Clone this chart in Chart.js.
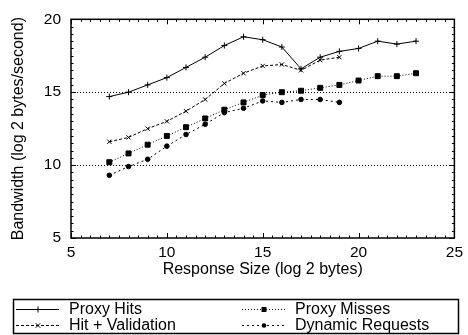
<!DOCTYPE html>
<html>
<head>
<meta charset="utf-8">
<script src="https://cdn.jsdelivr.net/npm/chart.js@4/dist/chart.umd.min.js"></script>
<style>
  html, body { margin: 0; padding: 0; background: #fff; }
  #wrap { width: 468px; height: 335px; }
</style>
</head>
<body>
<div id="wrap"><canvas id="bw" width="468" height="335"></canvas></div>
<script>
// response size (log2 bytes) and bandwidth (log2 bytes/second)
const sizes = [7, 8, 9, 10, 11, 12, 13, 14, 15, 16, 17, 18, 19, 20, 21, 22, 23];
const proxyHits = [14.7, 15.0, 15.5, 16.0, 16.7, 17.4, 18.2, 18.8, 18.6, 18.1, 16.6, 17.4, 17.8, 18.0, 18.5, 18.3, 18.5];
const hitValidation = [11.6, 11.9, 12.5, 13.0, 13.7, 14.5, 15.6, 16.3, 16.8, 16.9, 16.5, 17.2, 17.4];
const proxyMisses = [10.2, 10.8, 11.4, 12.0, 12.6, 13.2, 13.8, 14.3, 14.8, 15.0, 15.1, 15.3, 15.5, 15.8, 16.1, 16.1, 16.3];
const dynamicReq = [9.3, 9.9, 10.4, 11.3, 12.1, 12.8, 13.6, 13.9, 14.4, 14.3, 14.5, 14.5, 14.3];
const seriesNames = ['Proxy Hits', 'Hit + Validation', 'Proxy Misses', 'Dynamic Requests'];
const xTicks = [5, 10, 15, 20, 25];
const yTicks = [5, 10, 15, 20];

const FONT = 'Liberation Sans, Arial, Helvetica, sans-serif';
const toPoints = (vals) => vals.map((v, i) => ({ x: sizes[i], y: v }));

const series = [
    { label: seriesNames[0], data: toPoints(proxyHits), dash: [], pointStyle: 'cross', pointRadius: 3 },
    { label: seriesNames[1], data: toPoints(hitValidation), dash: [3, 2], pointStyle: 'crossRot', pointRadius: 3 },
    { label: seriesNames[2], data: toPoints(proxyMisses), dash: [1, 2], pointStyle: 'rect', pointRadius: 3.5 },
    { label: seriesNames[3], data: toPoints(dynamicReq), dash: [2, 3], pointStyle: 'circle', pointRadius: 2.3 }
];

function marker(ctx, style, x, y, r) {
    ctx.save();
    ctx.setLineDash([]);
    ctx.beginPath();
    if (style === 'cross') {
        ctx.moveTo(x - r, y); ctx.lineTo(x + r, y);
        ctx.moveTo(x, y - r); ctx.lineTo(x, y + r);
        ctx.stroke();
    } else if (style === 'crossRot') {
        const d = r * 0.75;
        ctx.moveTo(x - d, y - d); ctx.lineTo(x + d, y + d);
        ctx.moveTo(x + d, y - d); ctx.lineTo(x - d, y + d);
        ctx.stroke();
    } else if (style === 'rect') {
        const s = r * Math.SQRT1_2;
        ctx.fillRect(x - s, y - s, 2 * s, 2 * s);
    } else {
        ctx.arc(x, y, r, 0, Math.PI * 2);
        ctx.fill();
    }
    ctx.restore();
}

// frame, dotted grid, inward ticks on all four sides, boxed legend
const framePlugin = {
    id: 'frame',
    beforeDatasetsDraw: (chart) => {
        const { ctx, chartArea: a, scales: { y } } = chart;
        ctx.save();
        ctx.strokeStyle = '#000';
        ctx.lineWidth = 1;
        ctx.setLineDash([1, 2]);
        [10, 15].forEach(v => {
            const py = Math.round(y.getPixelForValue(v)) + 0.5;
            ctx.beginPath();
            ctx.moveTo(a.left, py);
            ctx.lineTo(a.right, py);
            ctx.stroke();
        });
        ctx.restore();
    },
    afterDraw: (chart) => {
        const { ctx, chartArea: a, scales: { x, y } } = chart;
        ctx.save();
        ctx.strokeStyle = '#000';
        ctx.lineWidth = 1;
        for (let v = 5; v <= 25.001; v += 0.5) {
            const px = Math.round(x.getPixelForValue(v)) + 0.5;
            const len = v % 5 === 0 ? 5 : 2.5;
            ctx.beginPath();
            ctx.moveTo(px, a.bottom); ctx.lineTo(px, a.bottom - len);
            ctx.moveTo(px, a.top); ctx.lineTo(px, a.top + len);
            ctx.stroke();
        }
        for (let v = 5; v <= 20.001; v += 0.5) {
            const py = Math.round(y.getPixelForValue(v)) + 0.5;
            const len = v % 5 === 0 ? 5 : 2.5;
            ctx.beginPath();
            ctx.moveTo(a.left, py); ctx.lineTo(a.left + len, py);
            ctx.moveTo(a.right, py); ctx.lineTo(a.right - len, py);
            ctx.stroke();
        }
        ctx.lineWidth = 1.5;
        ctx.strokeRect(a.left, a.top, a.right - a.left, a.bottom - a.top);

        // legend
        ctx.strokeRect(13.5, 299.5, 445, 34);
        ctx.font = '16px ' + FONT;
        ctx.fillStyle = '#000';
        ctx.textBaseline = 'middle';
        const slots = [[16, 309], [16, 325], [242, 309], [242, 325]];
        chart.data.datasets.forEach((ds, i) => {
            const [sx, sy] = slots[i];
            ctx.lineWidth = 1;
            ctx.setLineDash(ds.borderDash);
            ctx.beginPath();
            ctx.moveTo(sx, sy + 0.5); ctx.lineTo(sx + 43, sy + 0.5);
            ctx.stroke();
            marker(ctx, ds.pointStyle, sx + 22, sy + 0.5, ds.pointRadius);
            ctx.fillText(ds.label, sx + 53, sy + 1);
        });
        ctx.restore();
    }
};

new Chart(document.getElementById('bw'), {
    type: 'line',
    data: {
        datasets: series.map(s => ({
            label: s.label,
            data: s.data,
            borderColor: '#000',
            backgroundColor: '#000',
            borderWidth: 1,
            borderDash: s.dash,
            pointStyle: s.pointStyle,
            pointRadius: s.pointRadius,
            pointBorderWidth: 1,
            tension: 0,
            fill: false
        }))
    },
    options: {
        responsive: false,
        animation: false,
        layout: { padding: { left: 5, top: 14, right: 9, bottom: 52 } },
        plugins: { legend: { display: false }, tooltip: { enabled: false } },
        scales: {
            x: {
                type: 'linear',
                min: 5, max: 25,
                afterBuildTicks: (s) => { s.ticks = xTicks.map(v => ({ value: v })); },
                afterFit: (s) => { s.height = 45; },
                grid: { display: false, drawTicks: false },
                border: { display: false },
                ticks: { color: '#000', padding: 5, font: { family: FONT, size: 15.5 } },
                title: { display: true, text: 'Response Size (log 2 bytes)', color: '#000', font: { family: FONT, size: 16 } }
            },
            y: {
                type: 'linear',
                min: 5, max: 20,
                afterBuildTicks: (s) => { s.ticks = yTicks.map(v => ({ value: v })); },
                afterFit: (s) => { s.width = 66; },
                grid: { display: false, drawTicks: false },
                border: { display: false },
                ticks: { color: '#000', padding: 10, font: { family: FONT, size: 15.5 } },
                title: { display: true, text: 'Bandwidth (log 2 bytes/second)', color: '#000', font: { family: FONT, size: 16 } }
            }
        }
    },
    plugins: [framePlugin]
});
</script>
</body>
</html>
